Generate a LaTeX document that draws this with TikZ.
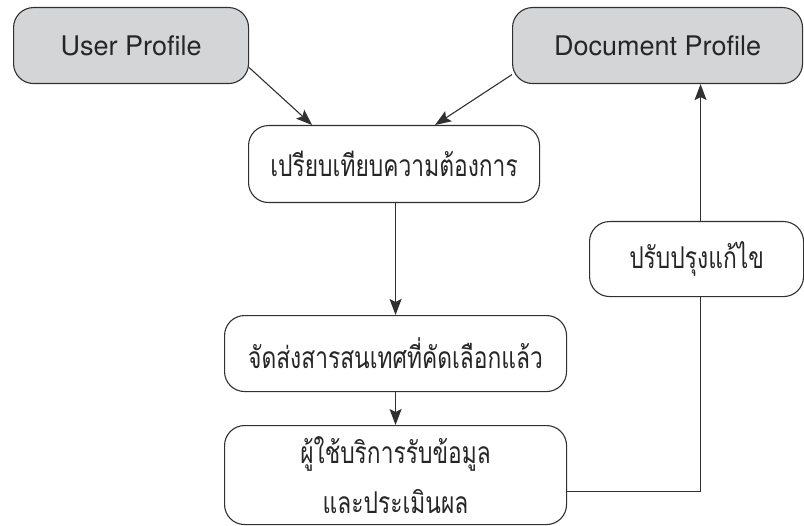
\documentclass[tikz,border=0pt]{standalone}
\usepackage{fontspec}
\newfontfamily\heros{TeX Gyre Heros}
\newfontfamily\thaifont[Script=Thai,FakeStretch=0.76]{Loma}
\usetikzlibrary{arrows.meta}
\definecolor{boxgray}{HTML}{D4D5D7}
\definecolor{linegray}{HTML}{303030}
\tikzset{
  box/.style={draw=linegray, line width=1.1bp, rounded corners=20bp, inner sep=0pt, anchor=north west},
  profile/.style={box, fill=boxgray, font=\heros\fontsize{27bp}{32bp}\selectfont, text=black!85},
  thaibox/.style={box, fill=white, font=\thaifont\fontsize{30bp}{50bp}\selectfont, text=black!85, align=center},
  conn/.style={draw=linegray, line width=1.1bp},
  arr/.style={conn, -{Stealth[length=16bp,width=12bp,inset=3bp]}}
}
\begin{document}
\begin{tikzpicture}[x=1bp,y=-1bp]
\useasboundingbox (0,0) rectangle (804,526);
\node[profile, minimum width=235bp, minimum height=76bp] (up) at (13,7) {User Profile};
\node[profile, minimum width=290bp, minimum height=76bp] (dp) at (512,7) {Document Profile};
\node[thaibox, minimum width=291bp, minimum height=77bp] (cmp) at (248,125) {เปรียบเทียบความต้องการ};
\node[thaibox, minimum width=342bp, minimum height=76bp] (sel) at (224,315) {จัดส่งสารสนเทศที่คัดเลือกแล้ว};
\node[thaibox, minimum width=342bp, minimum height=99bp] (usr) at (224,425) {ผู้ใช้บริการรับข้อมูล\\และประเมินผล};
\node[thaibox, minimum width=214bp, minimum height=75bp] (rev) at (589,221) {ปรับปรุงแก้ไข};
\draw[arr] ([yshift=-22bp]up.east) -- ([xshift=-82bp]cmp.north);
\draw[arr] ([yshift=-29bp]dp.west) -- ([xshift=41bp]cmp.north);
\draw[arr] (cmp.south -| sel.north) -- (sel.north);
\draw[arr] (sel.south) -- (usr.north);
\draw[conn] ([yshift=-16bp]usr.east) -| ([xshift=4bp]rev.south);
\draw[arr] ([xshift=4bp]rev.north) -- ([xshift=4bp]rev.north |- dp.south);
\end{tikzpicture}
\end{document}
